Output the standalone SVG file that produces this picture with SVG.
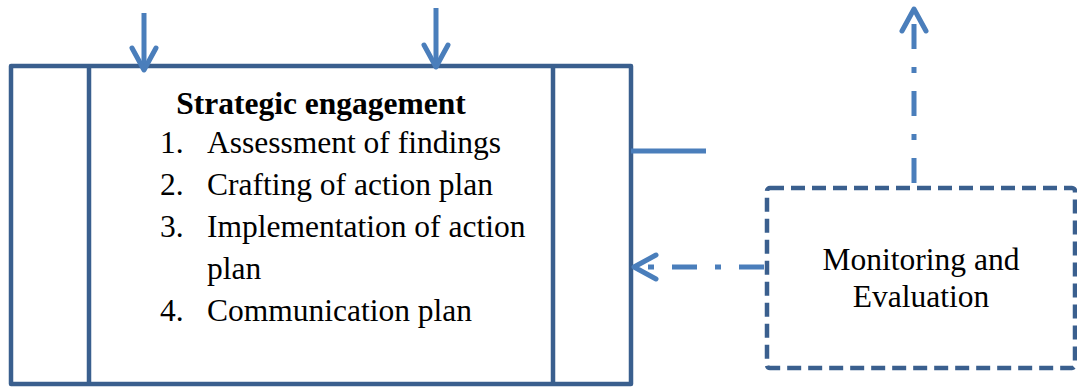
<svg xmlns="http://www.w3.org/2000/svg" width="1077" height="388" viewBox="0 0 1077 388">
  <style>
    .frame { fill: none; stroke: #3A5F8E; stroke-width: 4.5; stroke-linejoin: round; }
    .dashframe { fill: none; stroke: #3A5F8E; stroke-width: 4.5; stroke-dasharray: 14 7; }
    .link { fill: none; stroke: #4A7EBB; stroke-width: 5; }
    .dashdot { stroke-dasharray: 25 18 6 18; }
    .head { fill: none; stroke: #4A7EBB; stroke-width: 5; stroke-linecap: round; stroke-linejoin: round; }
    .txt { font-family: "Liberation Serif", "Times New Roman", serif; font-size: 31.5px; fill: #000; }
    .title { font-weight: bold; }
  </style>

  <g id="strategic-engagement">
    <rect class="frame" x="11" y="66" width="620" height="318"/>
    <line class="frame" x1="89" y1="66" x2="89" y2="384"/>
    <line class="frame" x1="553" y1="66" x2="553" y2="384"/>
    <text class="txt title" x="321" y="114" text-anchor="middle">Strategic engagement</text>
    <text class="txt" x="160" y="153">1.</text>
    <text class="txt" x="207" y="153">Assessment of findings</text>
    <text class="txt" x="160" y="195">2.</text>
    <text class="txt" x="207" y="195">Crafting of action plan</text>
    <text class="txt" x="160" y="237">3.</text>
    <text class="txt" x="207" y="237">Implementation of action</text>
    <text class="txt" x="207" y="279">plan</text>
    <text class="txt" x="160" y="321">4.</text>
    <text class="txt" x="207" y="321">Communication plan</text>
  </g>

  <g id="monitoring-evaluation">
    <rect class="dashframe" x="767" y="188" width="308" height="180" rx="3"/>
    <text class="txt" x="921" y="270" text-anchor="middle">Monitoring and</text>
    <text class="txt" x="921" y="307" text-anchor="middle">Evaluation</text>
  </g>

  <g id="connectors">
    <!-- inputs into the top of the engagement box -->
    <line class="link" x1="144" y1="13" x2="144" y2="68"/>
    <polyline class="head" points="132,48 144,70 156,48"/>
    <line class="link" x1="436" y1="8" x2="436" y2="66"/>
    <polyline class="head" points="424,45 436,67 448,45"/>

    <!-- side stub -->
    <line class="link" x1="631" y1="151" x2="706" y2="151"/>

    <!-- feedback from monitoring back to engagement -->
    <line class="link dashdot" x1="764" y1="267" x2="636" y2="267"/>
    <polyline class="head" points="656,255 634,267 656,279"/>

    <!-- outward link from monitoring -->
    <line class="link dashdot" x1="914" y1="183" x2="914" y2="12"/>
    <polyline class="head" points="902,31 914,9 926,31"/>
  </g>
</svg>
